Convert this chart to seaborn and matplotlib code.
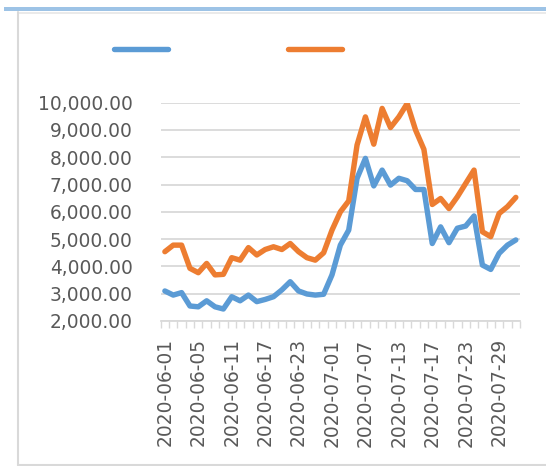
import matplotlib
matplotlib.use("Agg")
import matplotlib.pyplot as plt
from matplotlib.lines import Line2D
from matplotlib.patches import Rectangle
import seaborn as sns
import pandas as pd

# Trading days (China A-share calendar, June-July 2020)
dates = [
    "2020-06-01", "2020-06-02", "2020-06-03", "2020-06-04", "2020-06-05",
    "2020-06-08", "2020-06-09", "2020-06-10", "2020-06-11", "2020-06-12",
    "2020-06-15", "2020-06-16", "2020-06-17", "2020-06-18", "2020-06-19",
    "2020-06-22", "2020-06-23", "2020-06-24", "2020-06-29", "2020-06-30",
    "2020-07-01", "2020-07-02", "2020-07-03", "2020-07-06", "2020-07-07",
    "2020-07-08", "2020-07-09", "2020-07-10", "2020-07-13", "2020-07-14",
    "2020-07-15", "2020-07-16", "2020-07-17", "2020-07-20", "2020-07-21",
    "2020-07-22", "2020-07-23", "2020-07-24", "2020-07-27", "2020-07-28",
    "2020-07-29", "2020-07-30", "2020-07-31",
]

series_blue = [
    3100, 2950, 3040, 2550, 2520, 2740, 2520, 2440, 2890, 2740,
    2950, 2710, 2790, 2890, 3140, 3440, 3100, 2990, 2950, 2980,
    3690, 4780, 5330, 7230, 7960, 6950, 7530, 6980, 7230, 7140,
    6820, 6820, 4840, 5450, 4870, 5400, 5480, 5850, 4050, 3890,
    4480, 4780, 4970,
]

series_orange = [
    4540, 4780, 4780, 3930, 3770, 4110, 3690, 3710, 4320, 4230,
    4690, 4420, 4620, 4720, 4620, 4840, 4540, 4320, 4230, 4500,
    5330, 6000, 6400, 8450, 9480, 8480, 9790, 9090, 9480, 9970,
    9000, 8290, 6270, 6490, 6120, 6550, 7040, 7530, 5270, 5090,
    5940, 6190, 6530,
]

y_ticks = [2000, 3000, 4000, 5000, 6000, 7000, 8000, 9000, 10000]

BLUE = "#5B9BD5"
ORANGE = "#ED7D31"
GRID = "#D9D9D9"
TEXT = "#595959"

sns.set_theme(style="white")
plt.rcParams["font.family"] = ["DejaVu Sans"]

n = len(dates)
df = pd.DataFrame({
    "idx": list(range(n)) * 2,
    "value": series_blue + series_orange,
    "series": ["blue"] * n + ["orange"] * n,
})

W, H = 546, 466
fig = plt.figure(figsize=(W / 100, H / 100), dpi=100)
ax = fig.add_axes([160.7 / W, (H - 321) / H, (520 - 160.7) / W, (321 - 102.7) / H])

sns.lineplot(data=df, x="idx", y="value", hue="series",
             palette={"blue": BLUE, "orange": ORANGE},
             linewidth=3.9, ax=ax, legend=False, sort=False)
for ln in ax.lines:
    ln.set_solid_joinstyle("round")
    ln.set_solid_capstyle("round")

ax.set_xlim(-0.5, n - 0.5)
ax.set_ylim(y_ticks[0], y_ticks[-1])
ax.set_yticks(y_ticks)
ax.set_yticklabels([f"{v:,.2f}" for v in y_ticks])
ax.set_xticks(list(range(0, n, 4)))
ax.set_xticklabels([dates[i] for i in range(0, n, 4)], rotation=90)
ax.set_xticks([i - 0.5 for i in range(n + 1)], minor=True)
ax.tick_params(axis="x", which="major", length=0, pad=12.5,
               labelsize=13.4, labelcolor=TEXT)
ax.tick_params(axis="x", which="minor", length=5, width=1, color=GRID,
               direction="out", bottom=True)
ax.tick_params(axis="y", length=0, pad=20, labelsize=13.4, labelcolor=TEXT)
ax.set_xlabel("")
ax.set_ylabel("")
ax.yaxis.grid(True, color=GRID, linewidth=1.3)
ax.xaxis.grid(False)
for s in ["top", "right", "left"]:
    ax.spines[s].set_visible(False)
ax.spines["bottom"].set_color(GRID)
ax.spines["bottom"].set_linewidth(1.3)
ax.set_axisbelow(True)

# Legend (series names empty, as in the reference)
handles = [Line2D([0], [0], color=BLUE, lw=3.9, solid_capstyle="round"),
           Line2D([0], [0], color=ORANGE, lw=3.9, solid_capstyle="round")]
fig.legend(handles, ["", ""], ncol=2, loc="center left",
           bbox_to_anchor=(114 / W, (H - 50) / H), frameon=False,
           fontsize=13.4, handlelength=2.9, handletextpad=0,
           columnspacing=6.45, borderpad=0, borderaxespad=0)

# Frame decorations
fig.add_artist(Rectangle((4 / W, (H - 11) / H), 1 - 4 / W, 4 / H,
                         transform=fig.transFigure, color="#9DC3E6", lw=0))
fig.add_artist(Line2D([18 / W, 1], [(H - 12.5) / H] * 2,
                      transform=fig.transFigure, color="#E6E6E6", lw=1.2))
fig.add_artist(Line2D([18 / W] * 2, [(H - 12) / H, (H - 465) / H],
                      transform=fig.transFigure, color=GRID, lw=1.5))
fig.add_artist(Line2D([18 / W, 1], [(H - 465) / H] * 2,
                      transform=fig.transFigure, color=GRID, lw=1.5))

fig.savefig("out.png", dpi=100)
